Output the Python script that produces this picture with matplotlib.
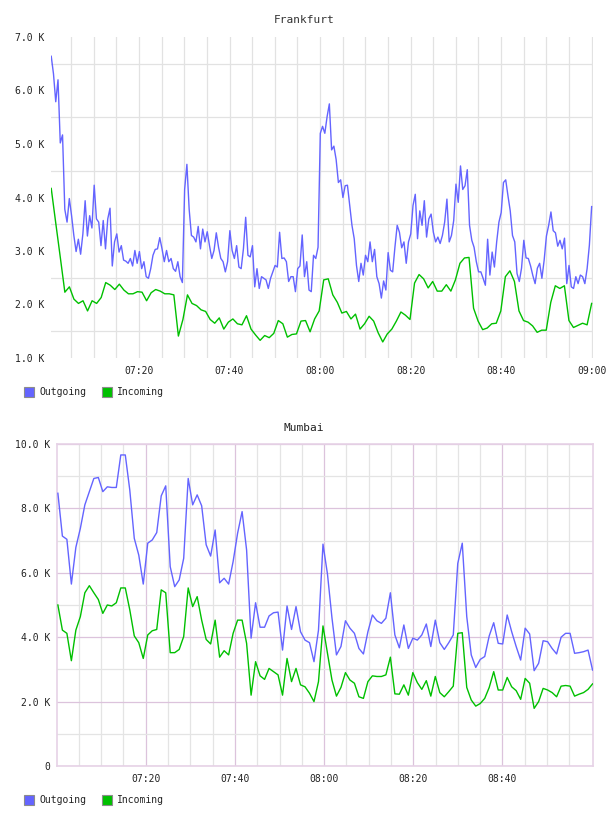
import matplotlib
matplotlib.use("Agg")
import matplotlib.pyplot as plt
from matplotlib.patches import Rectangle
import numpy as np

# traffic in K, Frankfurt outgoing sampled every 30 s, the rest every minute
frankfurt_out = [
    6.64, 6.31, 5.79, 6.20, 5.02, 5.17, 3.78, 3.54, 3.98, 3.66, 3.29, 2.99, 3.22, 2.94, 3.32,
    3.94, 3.28, 3.66, 3.43, 4.23, 3.60, 3.54, 3.10, 3.57, 3.04, 3.60, 3.80, 2.72, 3.17, 3.32,
    2.98, 3.10, 2.83, 2.81, 2.77, 2.86, 2.72, 3.01, 2.77, 2.99, 2.67, 2.80, 2.52, 2.49, 2.67,
    2.92, 3.03, 3.04, 3.25, 3.04, 2.80, 3.01, 2.80, 2.86, 2.67, 2.62, 2.80, 2.52, 2.41, 4.15,
    4.62,
    3.78, 3.29, 3.26, 3.17, 3.46, 3.04, 3.41, 3.17, 3.36, 3.10, 2.86, 3.01, 3.34, 3.07, 2.86,
    2.80, 2.61, 2.80, 3.38, 3.01, 2.86, 3.10, 2.70, 2.67, 3.04, 3.63, 2.92, 2.89, 3.10, 2.33,
    2.67, 2.30, 2.52, 2.49, 2.46, 2.30, 2.49, 2.61, 2.73, 2.70, 3.35, 2.86, 2.87, 2.80, 2.43,
    2.52, 2.52, 2.24, 2.67, 2.72, 3.30, 2.52, 2.80, 2.27, 2.24, 2.92, 2.86, 3.07, 5.20, 5.33,
    5.20, 5.51, 5.75, 4.89, 4.96, 4.71, 4.28, 4.33, 4.00, 4.22, 4.23, 3.85, 3.48, 3.23, 2.73,
    2.43, 2.77, 2.55, 2.92, 2.80, 3.17, 2.80, 3.03, 2.52, 2.39, 2.12, 2.44, 2.27, 2.97, 2.64,
    2.61, 3.07, 3.48, 3.35, 3.06, 3.17, 2.77, 3.17, 3.32, 3.85, 4.06, 3.23, 3.75, 3.48, 3.94,
    3.26, 3.60, 3.69, 3.35, 3.17, 3.26, 3.14, 3.29, 3.54, 3.97, 3.17, 3.29, 3.57, 4.25, 3.91,
    4.59, 4.15, 4.22, 4.52, 3.48, 3.20, 3.07, 2.80, 2.61, 2.61, 2.49, 2.36, 3.22, 2.55, 2.98,
    2.70, 3.17, 3.54, 3.72, 4.28, 4.33, 4.03, 3.75, 3.29, 3.17, 2.58, 2.43, 2.68, 3.20, 2.87,
    2.86, 2.72, 2.54, 2.39, 2.68, 2.77, 2.49, 2.83, 3.28, 3.48, 3.73, 3.38, 3.34, 3.09, 3.20,
    3.04, 3.24, 2.39, 2.73, 2.33, 2.30, 2.52, 2.39, 2.55, 2.52, 2.39, 2.67, 3.11, 3.83,
]
frankfurt_in = [
    4.17, 3.52, 2.88, 2.23, 2.33, 2.10, 2.02, 2.07, 1.88, 2.07, 2.02, 2.13, 2.41, 2.36, 2.28,
    2.38, 2.27, 2.20, 2.20, 2.24, 2.23, 2.07, 2.22, 2.28, 2.25, 2.20, 2.20, 2.18, 1.41, 1.72,
    2.18, 2.02, 1.98, 1.90, 1.87, 1.72, 1.65, 1.75, 1.54, 1.67, 1.73, 1.64, 1.62, 1.79, 1.54,
    1.43, 1.33, 1.42, 1.38, 1.46, 1.70, 1.64, 1.39, 1.44, 1.45, 1.69, 1.70, 1.49, 1.73, 1.88,
    2.46, 2.48, 2.18, 2.04, 1.84, 1.87, 1.73, 1.82, 1.54, 1.64, 1.78, 1.69, 1.47, 1.30, 1.45,
    1.54, 1.69, 1.86, 1.80, 1.72, 2.40, 2.56, 2.48, 2.31, 2.43, 2.25, 2.25, 2.37, 2.25, 2.46,
    2.77, 2.87, 2.88, 1.93, 1.69, 1.53, 1.56, 1.64, 1.65, 1.88, 2.52, 2.63, 2.43, 1.88, 1.70,
    1.67, 1.60, 1.48, 1.52, 1.52, 2.04, 2.35, 2.30, 2.35, 1.70, 1.57, 1.61, 1.65, 1.62, 2.02,
]
mumbai_out = [
    8.47, 7.14, 7.04, 5.65, 6.79, 7.38, 8.11, 8.52, 8.93, 8.96, 8.52, 8.67, 8.65, 8.65, 9.66,
    9.66, 8.57, 7.07, 6.55, 5.65, 6.92, 7.02, 7.25, 8.39, 8.70, 6.19, 5.57, 5.78, 6.45, 8.93,
    8.11, 8.42, 8.08, 6.87, 6.52, 7.33, 5.69, 5.83, 5.65, 6.35, 7.23, 7.90, 6.71, 3.97, 5.07,
    4.31, 4.31, 4.66, 4.76, 4.78, 3.60, 4.97, 4.24, 4.95, 4.17, 3.91, 3.83, 3.24, 4.22, 6.89,
    5.96, 4.60, 3.45, 3.71, 4.51, 4.28, 4.12, 3.65, 3.48, 4.17, 4.69, 4.51, 4.43, 4.59, 5.38,
    4.07, 3.67, 4.38, 3.65, 3.97, 3.91, 4.07, 4.41, 3.71, 4.53, 3.83, 3.62, 3.83, 4.07, 6.29,
    6.92, 4.64, 3.45, 3.06, 3.31, 3.40, 4.04, 4.45, 3.81, 3.79, 4.69, 4.17, 3.71, 3.29, 4.28,
    4.10, 2.96, 3.19, 3.89, 3.86, 3.65, 3.48, 4.00, 4.12, 4.12, 3.50, 3.52, 3.55, 3.60, 2.98,
]
mumbai_in = [
    5.00, 4.22, 4.12, 3.27, 4.22, 4.64, 5.38, 5.60, 5.38, 5.17, 4.74, 5.00, 4.97, 5.07, 5.53,
    5.53, 4.85, 4.04, 3.83, 3.34, 4.07, 4.20, 4.24, 5.47, 5.38, 3.52, 3.52, 3.62, 4.02, 5.53,
    4.95, 5.26, 4.53, 3.93, 3.79, 4.53, 3.38, 3.58, 3.45, 4.12, 4.53, 4.53, 3.81, 2.20, 3.24,
    2.80, 2.69, 3.03, 2.93, 2.83, 2.20, 3.34, 2.62, 3.03, 2.52, 2.46, 2.26, 2.00, 2.62, 4.35,
    3.50, 2.67, 2.17, 2.44, 2.90, 2.67, 2.57, 2.15, 2.10, 2.62, 2.80, 2.78, 2.78, 2.83, 3.38,
    2.24, 2.23, 2.52, 2.20, 2.90, 2.59, 2.38, 2.65, 2.17, 2.78, 2.28, 2.15, 2.31, 2.48, 4.12,
    4.14, 2.44, 2.05, 1.86, 1.94, 2.10, 2.44, 2.93, 2.36, 2.36, 2.75, 2.46, 2.34, 2.07, 2.72,
    2.57, 1.79, 2.00, 2.41, 2.36, 2.28, 2.15, 2.48, 2.50, 2.48, 2.17, 2.23, 2.28, 2.38, 2.55,
]

# minutes after 07:00
frankfurt_span = (0.6, 120.0)
mumbai_span = (0.3, 120.2)

frankfurt_yticks = [1, 2, 3, 4, 5, 6, 7]
frankfurt_ylabels = ["1.0 K", "2.0 K", "3.0 K", "4.0 K", "5.0 K", "6.0 K", "7.0 K"]
mumbai_yticks = [0, 2, 4, 6, 8, 10]
mumbai_ylabels = ["0", "2.0 K", "4.0 K", "6.0 K", "8.0 K", "10.0 K"]
frankfurt_xticks = [20, 40, 60, 80, 100, 120]
frankfurt_xlabels = ["07:20", "07:40", "08:00", "08:20", "08:40", "09:00"]
mumbai_xticks = [20, 40, 60, 80, 100]
mumbai_xlabels = ["07:20", "07:40", "08:00", "08:20", "08:40"]

BLUE = "#6464ff"
GREEN = "#00c000"
MONO = "DejaVu Sans Mono"
W, H = 608, 816

fig = plt.figure(figsize=(W / 100, H / 100), dpi=100)


def px_axes(left, top, right, bottom):
    return fig.add_axes([left / W, 1 - bottom / H, (right - left) / W, (bottom - top) / H])


def style_ticks(ax):
    ax.tick_params(which="both", length=0, labelsize=7, labelcolor="#222222")
    ax.tick_params(axis="y", pad=5)
    ax.tick_params(axis="x", pad=6)
    for lab in ax.get_xticklabels() + ax.get_yticklabels():
        lab.set_family(MONO)


def legend(y_center):
    for x0, color, name in [(24, BLUE, "Outgoing"), (102, GREEN, "Incoming")]:
        fig.add_artist(Rectangle((x0 / W, 1 - (y_center + 5) / H), 10 / W, 10 / H,
                                 transform=fig.transFigure, facecolor=color,
                                 edgecolor="#8c8c8c", linewidth=0.8))
        fig.text((x0 + 15) / W, 1 - y_center / H, name, fontsize=7, family=MONO,
                 va="center", ha="left", color="#222222")


# ---- Frankfurt ----
ax = px_axes(51, 37, 593, 358)
t = np.linspace(*frankfurt_span, len(frankfurt_out))
ax.plot(t, frankfurt_out, color=BLUE, lw=1.0, zorder=3)
t = np.linspace(*frankfurt_span, len(frankfurt_in))
ax.plot(t, frankfurt_in, color=GREEN, lw=1.0, zorder=3)
ax.set_xlim(0.55, 120.3)
ax.set_ylim(1, 7)
ax.set_yticks(frankfurt_yticks)
ax.set_yticklabels(frankfurt_ylabels)
ax.set_yticks(np.arange(1.5, 7, 1.0), minor=True)
ax.set_xticks(frankfurt_xticks)
ax.set_xticklabels(frankfurt_xlabels)
ax.set_xticks(np.arange(5, 121, 5), minor=True)
ax.grid(False)
ax.grid(True, which="minor", axis="both", color="#e2e2e2", lw=0.9, zorder=0)
ax.grid(True, which="major", axis="x", color="#e2e2e2", lw=0.9, zorder=0)
for s in ax.spines.values():
    s.set_visible(False)
style_ticks(ax)
fig.text(304 / W, 1 - 20 / H, "Frankfurt", ha="center", va="center",
         fontsize=8, family=MONO, color="#333333")
legend(392)

# ---- Mumbai ----
ax = px_axes(57, 444, 593, 766)
t = np.linspace(*mumbai_span, len(mumbai_out))
ax.plot(t, mumbai_out, color=BLUE, lw=1.0, zorder=3)
t = np.linspace(*mumbai_span, len(mumbai_in))
ax.plot(t, mumbai_in, color=GREEN, lw=1.0, zorder=3)
ax.set_xlim(0.1, 120.3)
ax.set_ylim(0, 10)
ax.set_yticks(mumbai_yticks)
ax.set_yticklabels(mumbai_ylabels)
ax.set_yticks(np.arange(1, 10, 2), minor=True)
ax.set_xticks(mumbai_xticks)
ax.set_xticklabels(mumbai_xlabels)
ax.set_xticks(np.arange(5, 120, 5), minor=True)
ax.grid(True, which="minor", color="#e4e4e4", lw=0.9, zorder=0)
ax.grid(True, which="major", color="#dcc3dc", lw=0.9, zorder=1)
for s in ax.spines.values():
    s.set_color("#e6d2e6")
    s.set_linewidth(1.2)
style_ticks(ax)
fig.text(304 / W, 1 - 428 / H, "Mumbai", ha="center", va="center",
         fontsize=8, family=MONO, color="#222222")
legend(800)

fig.savefig("out.png", dpi=100)
